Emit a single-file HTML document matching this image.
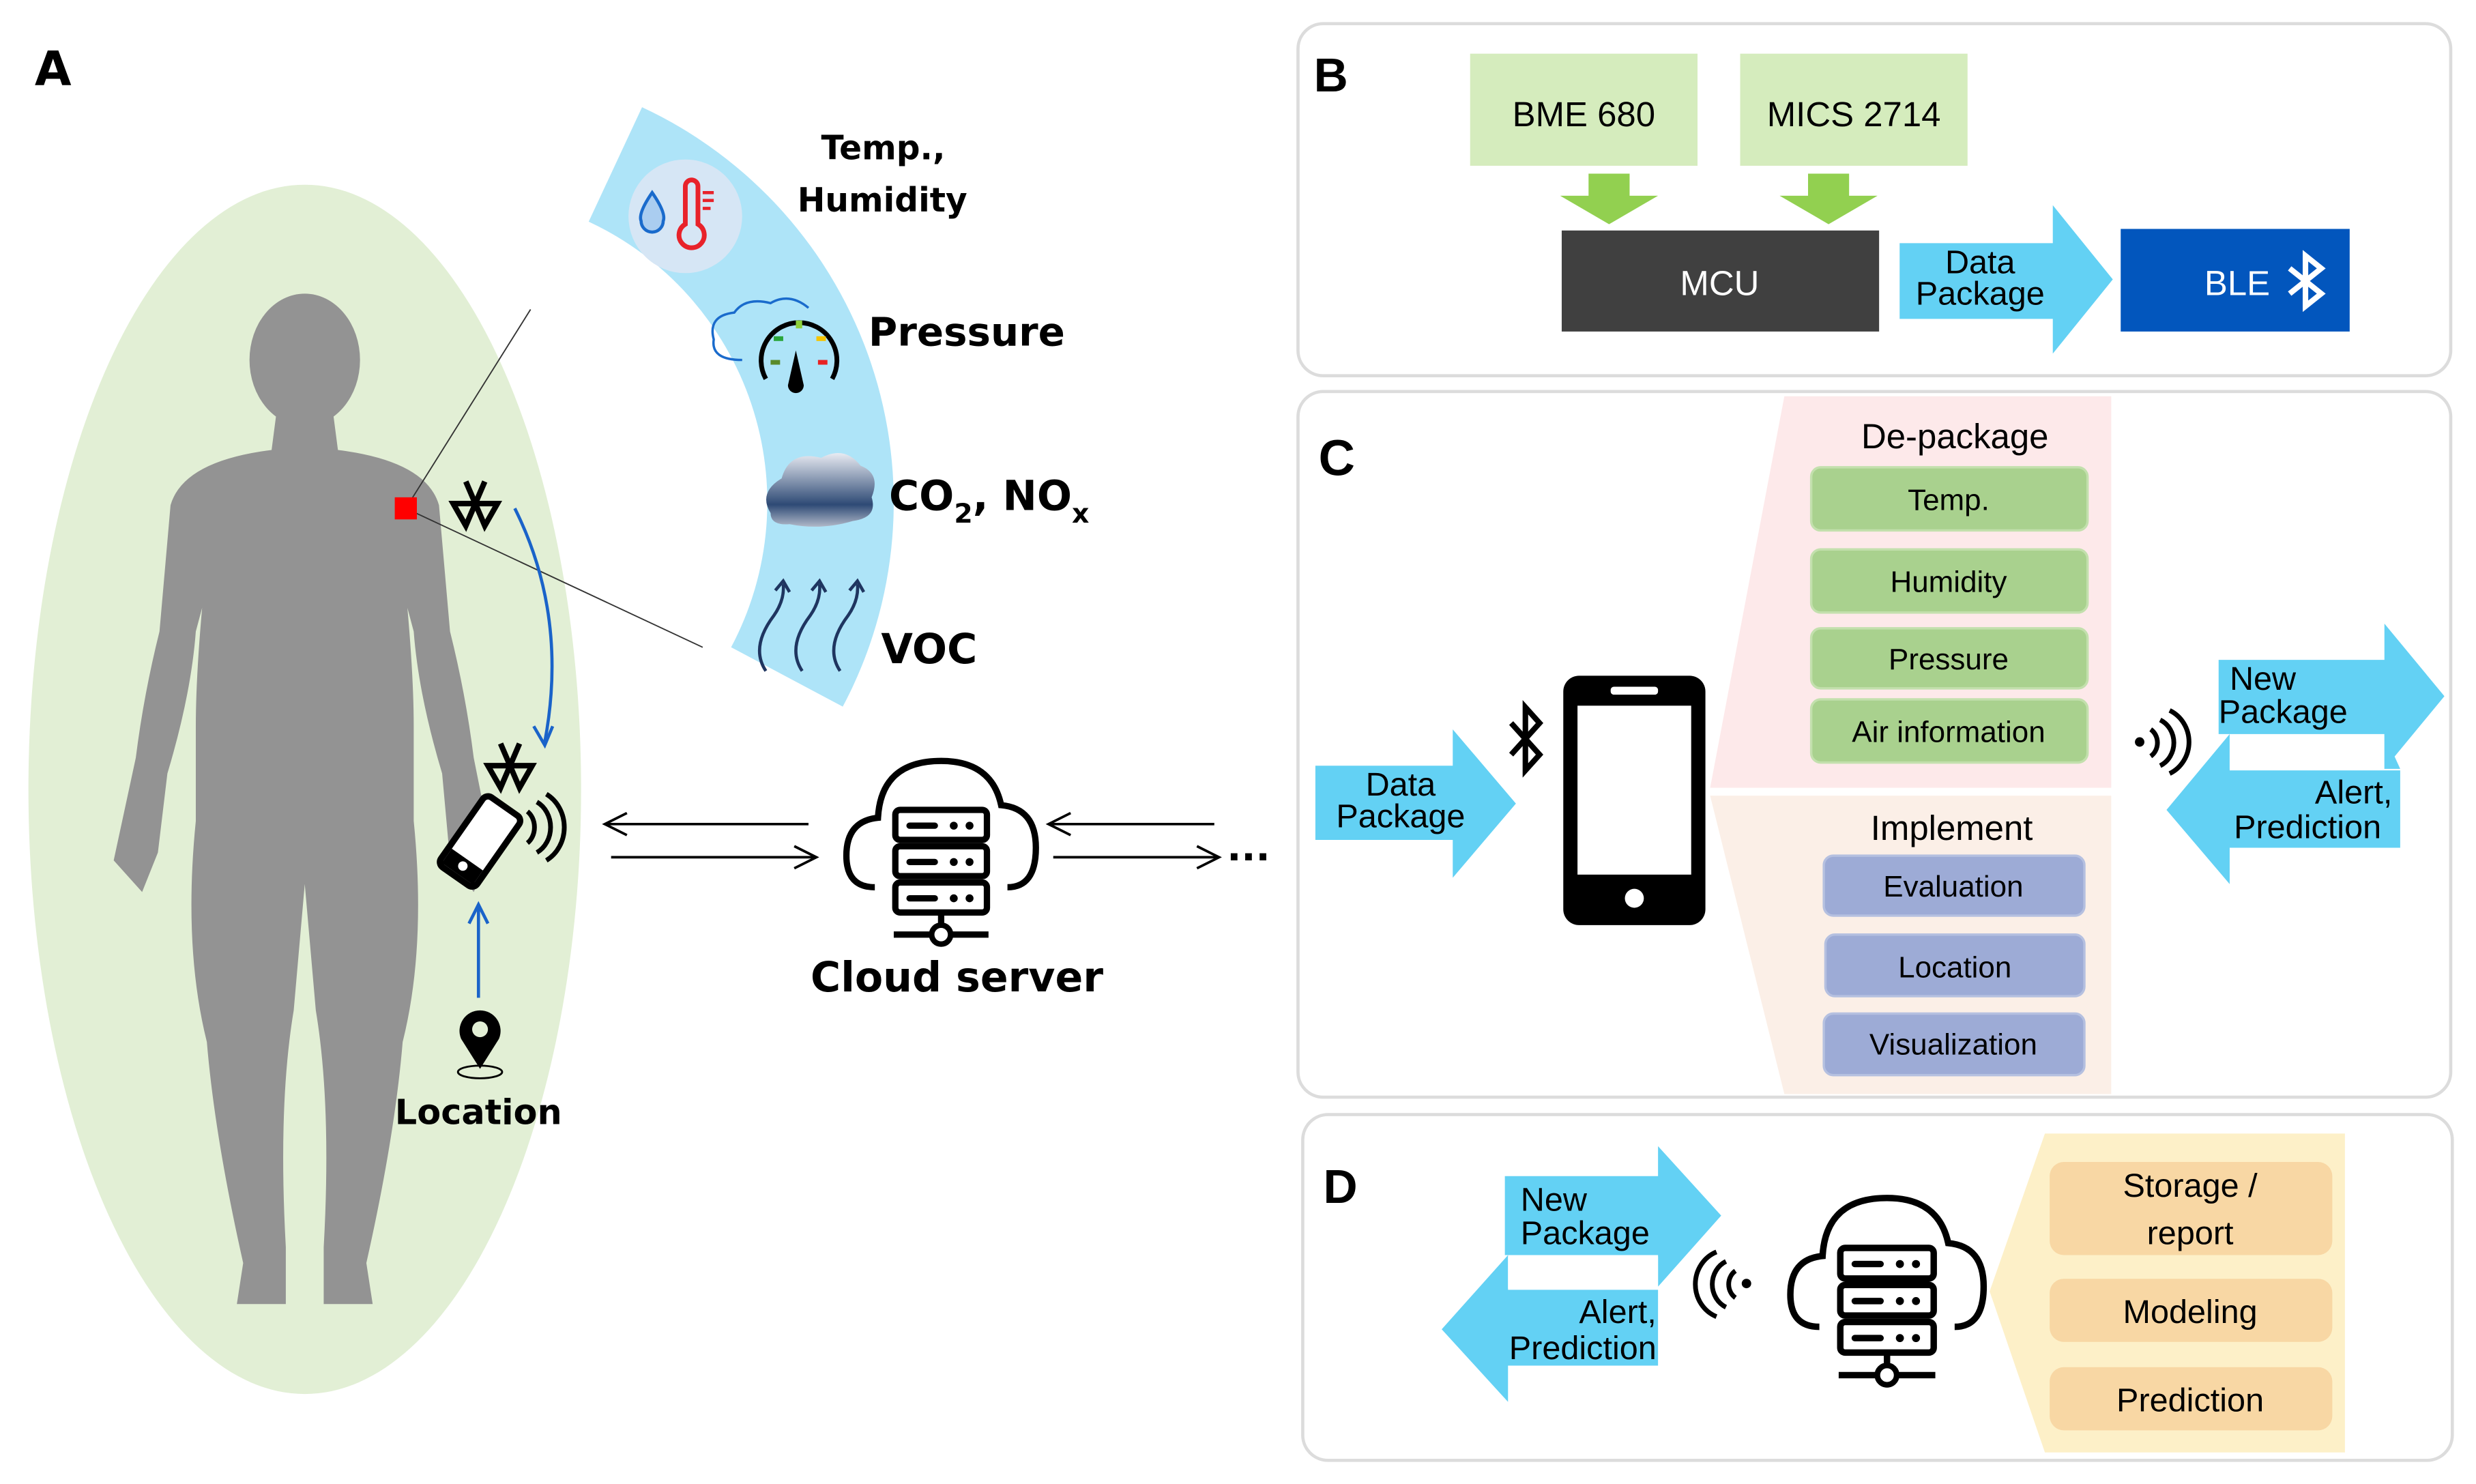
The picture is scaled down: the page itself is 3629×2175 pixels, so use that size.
<!DOCTYPE html>
<html><head><meta charset="utf-8"><style>
html,body{margin:0;padding:0;background:#fff;}
svg{display:block;}
.c{font-family:"Liberation Sans",sans-serif;}
.b{font-family:"DejaVu Sans","Liberation Sans",sans-serif;font-weight:bold;}
</style></head><body>
<svg width="3629" height="2175" viewBox="0 0 1568 940" preserveAspectRatio="none" xmlns="http://www.w3.org/2000/svg">
<defs>
<g id="srv">
<path d="M-42,22 Q-60,22 -60,2 Q-60,-20 -40,-22 Q-38,-58 0,-58 Q32,-58 38,-30 Q60,-28 60,-3 Q60,22 42,22" fill="none" stroke="#000" stroke-width="4"/>
<rect x="-29" y="-27" width="58" height="19" rx="3" fill="#fff" stroke="#000" stroke-width="4"/>
<rect x="-29" y="-4" width="58" height="19" rx="3" fill="#fff" stroke="#000" stroke-width="4"/>
<rect x="-29" y="19" width="58" height="19" rx="3" fill="#fff" stroke="#000" stroke-width="4"/>
<g stroke="#000" stroke-width="4" stroke-linecap="round"><line x1="-20" y1="-17" x2="-4" y2="-17"/><line x1="-20" y1="6" x2="-4" y2="6"/><line x1="-20" y1="29" x2="-4" y2="29"/></g>
<g fill="#000"><circle cx="8" cy="-17" r="2.5"/><circle cx="18" cy="-17" r="2.5"/><circle cx="8" cy="6" r="2.5"/><circle cx="18" cy="6" r="2.5"/><circle cx="8" cy="29" r="2.5"/><circle cx="18" cy="29" r="2.5"/></g>
<line x1="0" y1="38" x2="0" y2="47" stroke="#000" stroke-width="4"/>
<line x1="-30" y1="52" x2="30" y2="52" stroke="#000" stroke-width="4"/>
<circle cx="0" cy="52" r="6" fill="#fff" stroke="#000" stroke-width="3.5"/>
</g>
<g id="bt"><path d="M-14,-6 L14,6 L0,14 L0,-14 L14,-6 L-14,6" fill="none" stroke="#000" stroke-width="3.5"/></g>
</defs>

<!-- Panel A -->
<text x="22" y="54" class="b" font-size="30">A</text>
<ellipse cx="193" cy="500" rx="175" ry="383" fill="#e2efd5"/>
<ellipse cx="193" cy="228" rx="35" ry="42" fill="#939393"/>
<path d="M175,262 L211,262 L214,285 Q270,292 278,320 L285,400 Q295,440 300,480 L312,540 L300,565 L285,545 L280,490 Q265,440 262,400 L258,385 Q262,430 262,460 L262,520 Q270,600 255,660 Q250,720 232,800 L236,826 L205,826 L205,790 Q210,700 200,640 L193,560 L186,640 Q176,700 181,790 L181,826 L150,826 L154,800 Q136,720 131,660 Q116,600 124,520 L124,460 Q124,430 128,385 L124,400 Q121,440 106,490 L100,540 L90,565 L72,545 L86,480 Q91,440 101,400 L108,320 Q116,292 172,285 Z" fill="#939393"/>
<path d="M372.8,140.4 A196,196 0 0 1 463,410 L533.7,447.6 A276,276 0 0 0 406.6,67.9 Z" fill="#aee4f8"/>
<circle cx="434" cy="137" r="36" fill="#d6e6f5"/>
<path d="M413,122 Q404,135 406,140 A7,7 0 0 0 420,140 Q422,135 413,122 Z" fill="#aacdf0" stroke="#1a6bcc" stroke-width="2"/>
<path d="M434,118 L434,142 A8,8 0 1 0 442,142 L442,118 A4,4 0 0 0 434,118 Z" fill="none" stroke="#e8222a" stroke-width="3"/>
<g stroke="#e8222a" stroke-width="2"><line x1="445" y1="122" x2="452" y2="122"/><line x1="445" y1="127" x2="452" y2="127"/><line x1="445" y1="132" x2="450" y2="132"/></g>
<path d="M470,228 Q450,228 452,215 Q448,200 465,198 Q472,188 488,192 Q500,185 512,195" fill="none" stroke="#1a6bcc" stroke-width="1.5"/>
<path d="M485,240 A24,24 0 1 1 527,240" fill="none" stroke="#000" stroke-width="3"/>
<path d="M504,222 L509,244 A5,5 0 1 1 499,244 Z" fill="#000"/>
<rect x="490" y="213" width="6" height="3" fill="#2aa53a"/><rect x="504" y="203" width="4" height="5" fill="#8ed13a"/><rect x="517" y="213" width="6" height="3" fill="#f5c400"/><rect x="518" y="228" width="6" height="3" fill="#e82222"/><rect x="488" y="228" width="6" height="3" fill="#5a8a2a"/>
<linearGradient id="cg" x1="0" y1="0" x2="0" y2="1"><stop offset="0" stop-color="#e8ebf2"/><stop offset="0.7" stop-color="#2e4a75"/><stop offset="1" stop-color="#b0b8c8"/></linearGradient>
<path d="M488,325 Q480,312 495,303 Q500,285 520,290 Q535,282 545,295 Q558,300 552,315 Q556,328 540,330 Q520,336 500,332 Q488,333 488,325 Z" fill="url(#cg)"/>
<g fill="none" stroke="#1f3560" stroke-width="2"><path d="M485,425 Q475,410 490,390 Q497,380 496,370"/><path d="M508,425 Q498,410 513,390 Q520,380 519,370"/><path d="M532,425 Q522,410 537,390 Q544,380 543,370"/><path d="M491,374 L496,368 L500,375 M514,374 L519,368 L523,375 M538,374 L543,368 L547,375"/></g>
<text x="520" y="101" class="b" font-size="21">Temp.,</text>
<text x="505" y="134" class="b" font-size="21">Humidity</text>
<text x="550" y="219" class="b" font-size="25">Pressure</text>
<text x="563" y="323" class="b" font-size="26">CO<tspan font-size="17" dy="8">2</tspan><tspan dy="-8">, NO</tspan><tspan font-size="17" dy="8">x</tspan></text>
<text x="558" y="420" class="b" font-size="26">VOC</text>
<line x1="257" y1="322" x2="336" y2="196" stroke="#333" stroke-width="0.8"/>
<line x1="257" y1="322" x2="445" y2="410" stroke="#333" stroke-width="0.8"/>
<rect x="250" y="315" width="14" height="14" fill="#f00"/>
<use href="#bt" transform="translate(301,319) rotate(90)"/>
<use href="#bt" transform="translate(323,485) rotate(90)"/>
<path d="M326,322 Q360,390 345,470" fill="none" stroke="#1a63c9" stroke-width="2"/>
<path d="M338,460 L345,472 L350,460" fill="none" stroke="#1a63c9" stroke-width="2"/>
<g transform="translate(304,533) rotate(35)"><rect x="-14" y="-27" width="28" height="54" rx="4" fill="#fff" stroke="#000" stroke-width="4"/><rect x="-12" y="14" width="24" height="11" fill="#000"/><circle cx="0" cy="19" r="3" fill="#fff"/><line x1="-5" y1="-22" x2="5" y2="-22" stroke="#fff" stroke-width="2"/></g>
<g fill="none" stroke="#000" stroke-width="3"><path d="M334,514 A10,12 0 0 1 334,534"/><path d="M340,508 A16,18 0 0 1 340,540"/><path d="M346,503 A22,24 0 0 1 346,545"/></g>
<line x1="303" y1="632" x2="303" y2="575" stroke="#1a63c9" stroke-width="2"/>
<path d="M297,585 L303,573 L309,585" fill="none" stroke="#1a63c9" stroke-width="2"/>
<path d="M304,677 L292,658 A13,13 0 1 1 316,658 Z" fill="#000"/><circle cx="304" cy="652" r="5" fill="#e2efd5"/>
<ellipse cx="304" cy="679" rx="14" ry="4" fill="none" stroke="#000" stroke-width="1.2"/>
<text x="303" y="712" class="b" font-size="22" text-anchor="middle">Location</text>
<g stroke="#000" stroke-width="1.6" fill="none">
<line x1="383" y1="522" x2="512" y2="522"/><path d="M397,515 L383,522 L397,529"/>
<line x1="387" y1="543" x2="517" y2="543"/><path d="M503,536 L517,543 L503,550"/>
<line x1="664" y1="522" x2="769" y2="522"/><path d="M678,515 L664,522 L678,529"/>
<line x1="667" y1="543" x2="772" y2="543"/><path d="M758,536 L772,543 L758,550"/>
</g>
<text x="777" y="545" class="b" font-size="24">...</text>
<use href="#srv" transform="translate(596,540)"/>
<text x="606" y="628" class="b" font-size="26" text-anchor="middle">Cloud server</text>

<!-- Panel B -->
<rect x="822" y="15" width="730" height="223" rx="16" fill="#fff" stroke="#dcdcdc" stroke-width="2"/>
<text x="832" y="58" class="c" font-weight="bold" font-size="30">B</text>
<rect x="931" y="34" width="144" height="71" fill="#d5ecbd"/>
<rect x="1102" y="34" width="144" height="71" fill="#d5ecbd"/>
<text x="1003" y="80" class="c" font-size="22" text-anchor="middle">BME 680</text>
<text x="1174" y="80" class="c" font-size="22" text-anchor="middle">MICS 2714</text>
<path d="M1006,110 L1032,110 L1032,124 L1050,124 L1019,142 L988,124 L1006,124 Z" fill="#92d050"/>
<path d="M1145,110 L1171,110 L1171,124 L1189,124 L1158,142 L1127,124 L1145,124 Z" fill="#92d050"/>
<rect x="989" y="146" width="201" height="64" fill="#404040"/>
<text x="1089" y="187" class="c" font-size="22" fill="#fff" text-anchor="middle">MCU</text>
<path d="M1203,154 L1300,154 L1300,130 L1338,177 L1300,224 L1300,202 L1203,202 Z" fill="#63d1f4"/>
<text x="1254" y="173" class="c" font-size="21" text-anchor="middle">Data</text>
<text x="1254" y="193" class="c" font-size="21" text-anchor="middle">Package</text>
<rect x="1343" y="145" width="145" height="65" fill="#0256bd"/>
<text x="1396" y="187" class="c" font-size="22" fill="#fff">BLE</text>
<path d="M1450,170 L1470,186 L1460,194 L1460,162 L1470,170 L1450,186" fill="none" stroke="#fff" stroke-width="3.5"/>

<!-- Panel C -->
<rect x="822" y="248" width="730" height="447" rx="16" fill="#fff" stroke="#dcdcdc" stroke-width="2"/>
<text x="835" y="301" class="c" font-weight="bold" font-size="32">C</text>
<path d="M1130,251 L1337,251 L1337,499 L1083,499 Z" fill="#fde9ea"/>
<path d="M1083,504 L1337,504 L1337,693 L1130,693 Z" fill="#fbefe7"/>
<text x="1238" y="284" class="c" font-size="22" text-anchor="middle">De-package</text>
<g fill="#a9d18e" stroke="#c3e0ad" stroke-width="1.5">
<rect x="1147" y="296" width="175" height="40" rx="6"/><rect x="1147" y="348" width="175" height="40" rx="6"/><rect x="1147" y="398" width="175" height="38" rx="6"/><rect x="1147" y="443" width="175" height="40" rx="6"/>
</g>
<g class="c" font-size="19" text-anchor="middle">
<text x="1234" y="323">Temp.</text><text x="1234" y="375">Humidity</text><text x="1234" y="424">Pressure</text><text x="1234" y="470">Air information</text>
</g>
<text x="1236" y="532" class="c" font-size="22" text-anchor="middle">Implement</text>
<g fill="#9dabd6" stroke="#b5c0e0" stroke-width="1.5">
<rect x="1155" y="542" width="165" height="38" rx="6"/><rect x="1156" y="592" width="164" height="39" rx="6"/><rect x="1155" y="642" width="165" height="39" rx="6"/>
</g>
<g class="c" font-size="19" text-anchor="middle">
<text x="1237" y="568">Evaluation</text><text x="1238" y="619">Location</text><text x="1237" y="668">Visualization</text>
</g>
<rect x="990" y="428" width="90" height="158" rx="10" fill="#000"/>
<rect x="999" y="447" width="72" height="107" fill="#fff"/>
<rect x="1020" y="435" width="30" height="5" rx="2" fill="#fff"/>
<circle cx="1035" cy="569" r="6" fill="#fff"/>
<path d="M957,458 L975,478 L966,488 L966,448 L975,458 L957,478" fill="none" stroke="#000" stroke-width="3.5"/>
<path d="M833,485 L920,485 L920,462 L960,509 L920,556 L920,532 L833,532 Z" fill="#63d1f4"/>
<text x="887" y="504" class="c" font-size="21" text-anchor="middle">Data</text>
<text x="887" y="524" class="c" font-size="21" text-anchor="middle">Package</text>
<circle cx="1355" cy="470" r="3" fill="#000"/>
<g fill="none" stroke="#000" stroke-width="3"><path d="M1362,462 A9,10 0 0 1 1362,479"/><path d="M1368,456 A15,16 0 0 1 1368,485"/><path d="M1374,450 A21,22 0 0 1 1374,490"/></g>
<path d="M1405,418 L1510,418 L1510,395 L1548,441 L1510,487 L1510,465 L1405,465 Z" fill="#63d1f4"/>
<text x="1412" y="437" class="c" font-size="21">New</text>
<text x="1405" y="458" class="c" font-size="21">Package</text>
<path d="M1520,488 L1412,488 L1412,465 L1372,513 L1412,560 L1412,537 L1520,537 Z" fill="#63d1f4"/>
<rect x="1412" y="466" width="98" height="21" fill="#fff"/>
<path d="M1510,465 L1510,487 L1520,487 Z" fill="#63d1f4"/>
<text x="1515" y="509" class="c" font-size="21" text-anchor="end">Alert,</text>
<text x="1508" y="531" class="c" font-size="21" text-anchor="end">Prediction</text>

<!-- Panel D -->
<rect x="825" y="706" width="728" height="219" rx="16" fill="#fff" stroke="#dcdcdc" stroke-width="2"/>
<text x="838" y="762" class="c" font-weight="bold" font-size="30">D</text>
<path d="M1295,718 L1485,718 L1485,920 L1295,920 L1260,818 Z" fill="#fdf0c8"/>
<g fill="#f8d7a4"><rect x="1298" y="736" width="179" height="59" rx="9"/><rect x="1298" y="810" width="179" height="40" rx="9"/><rect x="1298" y="866" width="179" height="40" rx="9"/></g>
<g class="c" font-size="21" text-anchor="middle"><text x="1387" y="758">Storage /</text><text x="1387" y="788">report</text><text x="1387" y="838">Modeling</text><text x="1387" y="894">Prediction</text></g>
<path d="M953,745 L1050,745 L1050,726 L1090,770 L1050,815 L1050,795 L953,795 Z" fill="#63d1f4"/>
<path d="M1050,817 L955,817 L955,795 L913,842 L955,888 L955,865 L1050,865 Z" fill="#63d1f4"/>
<rect x="955" y="796" width="95" height="20" fill="#fff"/>
<text x="963" y="767" class="c" font-size="21">New</text>
<text x="963" y="788" class="c" font-size="21">Package</text>
<text x="1049" y="838" class="c" font-size="21" text-anchor="end">Alert,</text>
<text x="1049" y="861" class="c" font-size="21" text-anchor="end">Prediction</text>
<circle cx="1106" cy="813" r="3" fill="#000"/>
<g fill="none" stroke="#000" stroke-width="3"><path d="M1099,805 A9,10 0 0 0 1099,822"/><path d="M1093,799 A15,16 0 0 0 1093,828"/><path d="M1087,793 A21,22 0 0 0 1087,834"/></g>
<use href="#srv" transform="translate(1195,818) scale(1.02)"/>
</svg>
</body></html>
